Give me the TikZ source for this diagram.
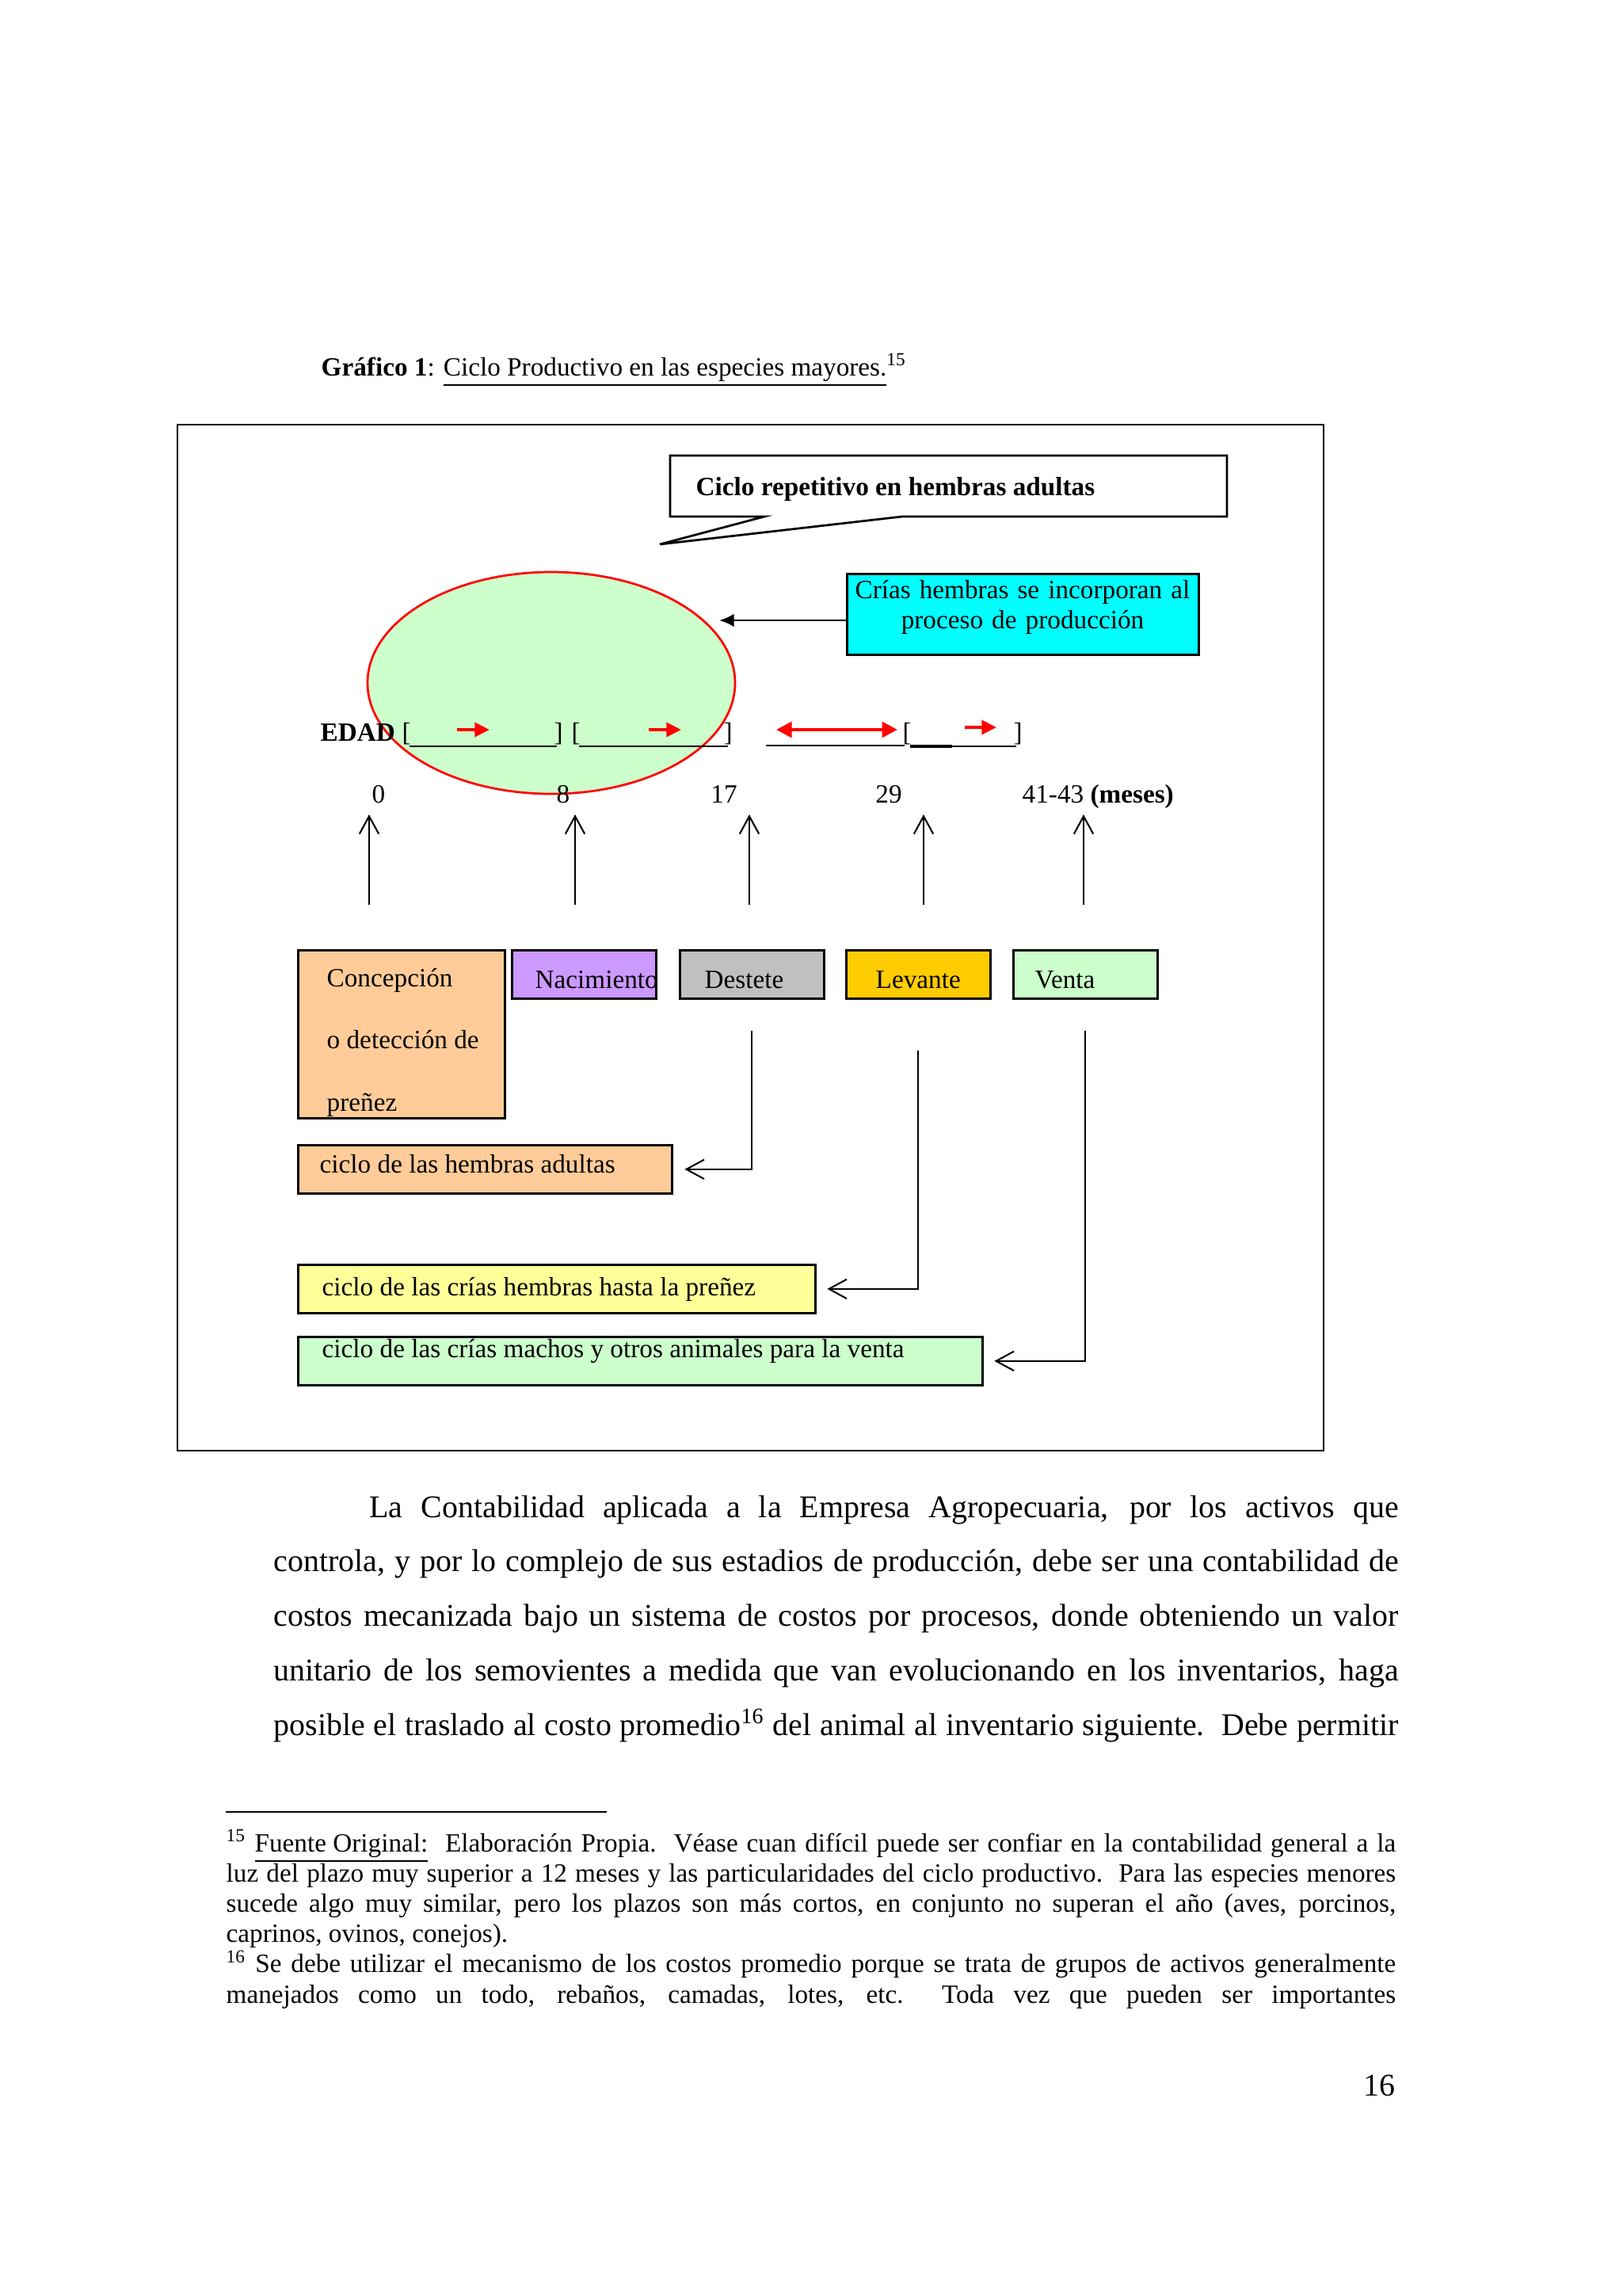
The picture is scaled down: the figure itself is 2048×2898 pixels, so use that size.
\documentclass[tikz,border=0pt]{standalone}
\usepackage{fontspec}
\setmainfont{Liberation Serif}
\usepackage{tikz}
\usetikzlibrary{arrows.meta}
\usetikzlibrary{shapes.geometric}
\usetikzlibrary{positioning}
\usetikzlibrary{math}
\definecolor{durazno}{HTML}{FFCC99}
\definecolor{lila}{HTML}{CC99FF}
\definecolor{gris}{HTML}{C0C0C0}
\definecolor{oro}{HTML}{FFCC00}
\definecolor{menta}{HTML}{CCFFCC}
\definecolor{amarillo}{HTML}{FFFF99}
\definecolor{cian}{HTML}{00FFFF}
\newcommand{\upx}{0.01025cm}
\newcommand{\letrachica}{\fontsize{9.7}{11.15}\selectfont}
\newcommand{\letragrande}{\fontsize{11.64}{20.1}\selectfont}
\tikzstyle{caja} = [rectangle, draw=black, line width=0.8pt, inner sep=0pt, anchor=north west]
\tikzstyle{txt} = [anchor=base west, inner sep=0pt, font=\letrachica]
\tikzstyle{sube} = [-{Straight Barb[length=0.23cm, width=0.25cm]}, line width=0.6pt]
\tikzstyle{roja} = [-{Triangle[length=0.19cm, width=0.18cm]}, red, line width=1.2pt]

\begin{document}
\begin{tikzpicture}[x=0.01025cm, y=-0.01025cm]

  \tikzmath{\ya = 1142; \yf = 1028; \yr = 921;}

  \fill[white] (0,0) rectangle (2048,2898);
  \useasboundingbox (0,0) rectangle (2048,2898);

  % titulo
  \node[txt] (titulo) at (405,474) {\textbf{Gráfico 1}: \underline{Ciclo Productivo en las especies mayores.}\textsuperscript{15}};

  % marco
  \draw[line width=0.8pt] (224,536) rectangle (1671,1831);

  % globo
  \draw[line width=0.8pt, fill=white] (846,575) -- (1549,575) -- (1549,652) -- (1139,652) -- (833,687) -- (965,652) -- (846,652) -- cycle;
  \node[txt] (repetitivo) at (878,625) {\textbf{Ciclo repetitivo en hembras adultas}};

  \node[ellipse, draw=red, fill=menta, line width=0.8pt, inner sep=0pt, minimum width=464*\upx, minimum height=280*\upx] (ciclo) at (696,862) {};

  \node[caja, fill=cian, minimum width=444*\upx, minimum height=102*\upx] (incorp) at (1068,723) {};
  \node[txt, anchor=base, text width=5cm, align=center] at (1291,755) {Crías hembras se incorporan al\\proceso de producción};
  \coordinate (punta) at (908,783);
  \draw[-{Latex[length=0.19cm, width=0.17cm]}, line width=0.8pt] (punta -| incorp.west) -- (punta);

  % edades
  \node[txt] (edad) at (404,935) {\textbf{EDAD}};
  \node[txt] at (507,935) {[};
  \node[txt] at (699,935) {]};
  \node[txt] at (721,935) {[};
  \node[txt] at (913,935) {]};
  \node[txt] at (1139,935) {[};
  \node[txt] at (1279,935) {]};
  \draw[line width=0.6pt] (517,942) -- (703,942);
  \draw[line width=0.6pt] (731,942) -- (919,942);
  \draw[line width=0.6pt] (967,941) -- (1142,941);
  \draw[line width=0.6pt] (1149,942) -- (1283,942);
  \draw[line width=1.3pt] (1149,942) -- (1202,942);

  \draw[roja] (577,\yr) -- (618,\yr);
  \draw[roja] (819,\yr) -- (860,\yr);
  \draw[roja, {Triangle[length=0.2cm, width=0.2cm]}-{Triangle[length=0.2cm, width=0.2cm]}] (980,\yr) -- (1133,\yr);
  \draw[roja] (1218,918) -- (1258,918);

  \node[txt, anchor=base] at (478,1013) {0};
  \node[txt, anchor=base] at (711,1013) {8};
  \node[txt, anchor=base] at (914,1013) {17};
  \node[txt, anchor=base] at (1122,1013) {29};
  \node[txt] (meses) at (1290,1013) {41-43 \textbf{(meses)}};

  \foreach \x [count=\i] in {466,726,946,1166,1368} {
    \coordinate (ab\i) at (\x,\ya);
    \coordinate (ar\i) at (\x,\yf);
    \draw[sube] (ab\i) -- (ar\i);
  }

  % etapas
  \node[caja, fill=durazno, minimum width=261*\upx, minimum height=212*\upx] (concep) at (375,1198) {};
  \node[caja, fill=lila, minimum width=182*\upx, minimum height=61*\upx] (naci) at (645,1198) {};
  \node[caja, fill=gris, minimum width=182*\upx, minimum height=61*\upx] (destete) at (857,1198) {};
  \node[caja, fill=oro, minimum width=182*\upx, minimum height=61*\upx] (levante) at (1067,1198) {};
  \node[caja, fill=menta, minimum width=182*\upx, minimum height=61*\upx] (venta) at (1278,1198) {};

  \node[txt] at (412,1245) {Concepción};
  \node[txt] at (412,1323) {o detección de};
  \node[txt] at (412,1402) {preñez};
  \node[txt] at (675,1247) {Nacimiento};
  \node[txt] at (889,1247) {Destete};
  \node[txt] at (1105,1247) {Levante};
  \node[txt] at (1306,1247) {Venta};

  % ciclos
  \node[caja, fill=durazno, minimum width=472*\upx, minimum height=61*\upx] (adultas) at (375,1444) {};
  \node[caja, fill=amarillo, minimum width=653*\upx, minimum height=61*\upx] (crias) at (375,1595) {};
  \node[caja, fill=menta, minimum width=864*\upx, minimum height=61*\upx] (machos) at (375,1686) {};
  \node[txt] at (403,1480) {ciclo de las hembras adultas};
  \node[txt] at (406,1635) {ciclo de las crías hembras hasta la preñez};
  \node[txt] at (406,1713) {ciclo de las crías machos y otros animales para la venta};

  \draw[sube] ([yshift=-0.4cm]destete.south) |- ([xshift=0.15cm]adultas.east);
  \draw[sube] ([yshift=-0.66cm]levante.south) |- ([xshift=0.14cm]crias.east);
  \draw[sube] ([yshift=-0.4cm]venta.south) |- ([xshift=0.14cm]machos.east);

  % texto
  \node[anchor=base west, inner sep=0pt, text width=14.56cm, align=justify, font=\letragrande] (parrafo) at (345,1915) {\hspace*{1.24cm}La Contabilidad aplicada a la Empresa Agropecuaria, por los activos que\linebreak controla, y por lo complejo de sus estadios de producción, debe ser una contabilidad de\linebreak costos mecanizada bajo un sistema de costos por procesos, donde obteniendo un valor\linebreak unitario de los semovientes a medida que van evolucionando en los inventarios, haga\linebreak posible el traslado al costo promedio\textsuperscript{16} del animal al inventario siguiente.\ \ Debe permitir\parfillskip=0pt\par};

  \draw[line width=0.6pt] (285,2287) -- (766,2287);

  \node[anchor=base west, inner sep=0pt, text width=15.14cm, align=justify, font=\letrachica] (notas) at (285,2337) {\textsuperscript{15} \underline{Fuente Original:}\ \ Elaboración Propia.\ \ Véase cuan difícil puede ser confiar en la contabilidad general a la\linebreak luz del plazo muy superior a 12 meses y las particularidades del ciclo productivo.\ \ Para las especies menores\linebreak sucede algo muy similar, pero los plazos son más cortos, en conjunto no superan el año (aves, porcinos,\linebreak caprinos, ovinos, conejos).\par
  \textsuperscript{16} Se debe utilizar el mecanismo de los costos promedio porque se trata de grupos de activos generalmente\linebreak manejados como un todo, rebaños, camadas, lotes, etc.\ \ Toda vez que pueden ser importantes\parfillskip=0pt\par};

  \node[anchor=base east, inner sep=0pt, font=\letragrande] (pagina) at (1762,2645) {16};

\end{tikzpicture}
\end{document}
